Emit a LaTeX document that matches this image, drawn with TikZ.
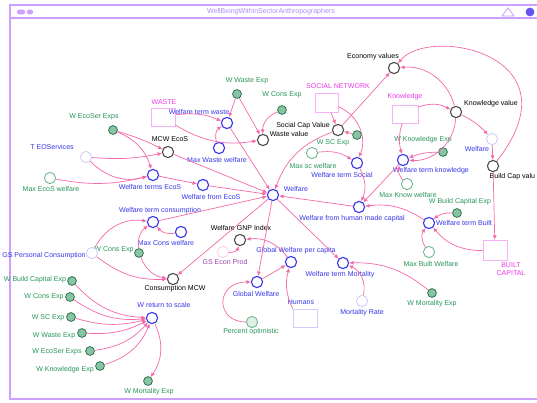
\documentclass[tikz,border=0pt]{standalone}
\usepackage{fontspec}
\setmainfont{Liberation Sans}
\usepackage{xcolor}
\usepackage{tikz}
\usetikzlibrary{arrows.meta}
\definecolor{figpink}{RGB}{245,105,170}
\definecolor{figblue}{RGB}{55,55,235}
\definecolor{figgreen}{RGB}{40,150,90}
\definecolor{figmag}{RGB}{235,60,235}
\definecolor{figframe}{RGB}{205,160,255}
\definecolor{figplum}{RGB}{150,70,170}
\tikzstyle{link} = [-{Latex[length=1.1mm,width=1mm]}, line width=0.5pt, draw=figpink]
\tikzset{
    conv/.style={circle, draw, fill=white, minimum size=0.28cm, inner sep=0pt, line width=0.8pt},
    bconv/.style={conv, draw=figblue},
    kconv/.style={conv, draw=black!70},
    gconv/.style={conv, draw=figgreen!70, line width=0.6pt},
    pconv/.style={conv, draw=figblue!25, line width=0.6pt},
    wexp/.style={circle, draw=figgreen!70!black, fill=figgreen!55, minimum size=0.22cm, inner sep=0pt, line width=0.5pt},
    stock/.style={rectangle, draw=figmag!40, fill=white, inner sep=0pt, line width=0.5pt,
        minimum width=0.6cm, minimum height=0.45cm},
    lbl/.style={font=\fontsize{5}{6}\selectfont, inner sep=0.5pt},
    blbl/.style={lbl, text=figblue},
    klbl/.style={lbl, text=black},
    glbl/.style={lbl, text=figgreen},
    mlbl/.style={lbl, text=figmag, align=center},
}

\begin{document}
\begin{tikzpicture}[x=0.025cm, y=-0.025cm]
    \useasboundingbox (0,0) rectangle (537,402);
    \fill[white] (0,0) rectangle (537,402);

    % window frame
    \draw[figframe, line width=1.2pt] (537,5) -- (10,5) -- (10,399) -- (537,399);
    \draw[figframe, line width=0.8pt] (10,18) -- (537,18);
    \node[fill=figframe, rounded corners=1pt, minimum width=0.2cm, minimum height=0.12cm, inner sep=0pt] (btna) at (21,12) {};
    \node[fill=figframe, rounded corners=1pt, minimum width=0.15cm, minimum height=0.12cm, inner sep=0pt] (btnb) at (30,12) {};
    \node[lbl, text=figframe!80!figblue] (title) at (271,12) {WellBeingWithinSectorAnthropographers};
    \draw[figframe, line width=0.6pt] (502,16) -- (508,8) -- (514,16) -- cycle;
    \fill[figblue!70!figframe] (530,12) circle (0.11cm);

    % ecosystem services
    \node[wexp] (ecoexp) at (113,130) {};
    \node[glbl] (ecoexp-l) at (94,117) {W EcoSer Exps};
    \node[pconv] (teos) at (86,157) {};
    \node[blbl] (teos-l) at (52,147) {T EOServices};
    \node[gconv] (maxeco) at (50,178) {};
    \node[glbl] (maxeco-l) at (51,189) {Max EcoS welfare};
    \node[kconv] (mcweco) at (168,152) {};
    \node[klbl] (mcweco-l) at (170,139) {MCW EcoS};
    \node[bconv] (termeco) at (153,175) {};
    \node[blbl] (termeco-l) at (150,187) {Welfare terms EcoS};
    \node[bconv] (fromeco) at (203,185) {};
    \node[blbl] (fromeco-l) at (211,197) {Welfare from EcoS};

    % waste
    \node[stock] (waste) at (163,117) {};
    \node[mlbl] (waste-l) at (164,102) {WASTE};
    \node[bconv] (termwaste) at (227,123) {};
    \node[blbl] (termwaste-l) at (199,112) {Welfare term waste};
    \node[bconv] (maxwaste) at (219,148) {};
    \node[blbl] (maxwaste-l) at (217,160) {Max Waste welfare};
    \node[wexp] (wasteexp) at (237,94) {};
    \node[glbl] (wasteexp-l) at (247,81) {W Waste Exp};
    \node[wexp] (consexpa) at (282,110) {};
    \node[glbl] (consexpa-l) at (282,95) {W Cons Exp};
    \node[kconv] (wasteval) at (263,140) {};
    \node[klbl] (wasteval-l) at (289,134) {Waste value};

    \node[bconv] (welfare) at (273,195) {};
    \node[blbl] (welfare-l) at (296,189) {Welfare};

    % social
    \node[stock, minimum width=0.58cm, minimum height=0.47cm] (social) at (327,103) {};
    \node[mlbl] (social-l) at (338,86) {SOCIAL NETWORK};
    \node[kconv] (scval) at (338,130) {};
    \node[klbl] (scval-l) at (303,126) {Social Cap Value};
    \node[wexp] (scexp) at (357,135) {};
    \node[glbl] (scexp-l) at (333,143) {W SC Exp};
    \node[gconv] (maxsc) at (312,153) {};
    \node[glbl] (maxsc-l) at (313,166) {Max sc welfare};
    \node[bconv] (termsoc) at (357,163) {};
    \node[blbl] (termsoc-l) at (342,175) {Welfare term Social};

    % knowledge
    \node[kconv] (econ) at (394,68) {};
    \node[klbl] (econ-l) at (373,57) {Economy values};
    \node[stock, minimum width=0.65cm] (know) at (405,114) {};
    \node[mlbl] (know-l) at (405,97) {Knowledge};
    \node[kconv] (knowval) at (456,112) {};
    \node[klbl] (knowval-l) at (491,104) {Knowledge value};
    \node[wexp] (knowexp) at (443,152) {};
    \node[glbl] (knowexp-l) at (423,140) {W Knowledge Exp};
    \node[bconv] (termknow) at (403,160) {};
    \node[blbl] (termknow-l) at (431,171) {Welfare term knowledge};
    \node[gconv] (maxknow) at (407,184) {};
    \node[glbl] (maxknow-l) at (408,195) {Max Know welfare};

    % built capital
    \node[pconv] (welftwo) at (492,139) {};
    \node[blbl] (welftwo-l) at (477,149) {Welfare};
    \node[kconv] (buildval) at (493,166) {};
    \node[klbl, anchor=east] (buildval-l) at (536,177) {Build Cap valu};
    \node[wexp] (buildexp) at (457,213) {};
    \node[glbl] (buildexp-l) at (460,202) {W Build Capital Exp};
    \node[bconv] (termbuilt) at (429,223) {};
    \node[blbl] (termbuilt-l) at (464,223) {Welfare term Built};
    \node[gconv] (maxbuilt) at (429,252) {};
    \node[glbl] (maxbuilt-l) at (431,264) {Max Built Welfare};
    \node[stock, minimum height=0.5cm] (built) at (495,250) {};
    \node[mlbl] (built-l) at (511,269) {BUILT\\CAPITAL};
    \node[bconv] (fromhuman) at (359,207) {};
    \node[blbl] (fromhuman-l) at (352,219) {Welfare from human made capital};

    % mortality and global welfare
    \node[bconv] (termmort) at (343,263) {};
    \node[blbl] (termmort-l) at (340,275) {Welfare term Mortality};
    \node[wexp] (mortexp) at (432,293) {};
    \node[glbl] (mortexp-l) at (432,304) {W Mortality Exp};
    \node[pconv] (mortrate) at (362,301) {};
    \node[blbl] (mortrate-l) at (362,313) {Mortality Rate};
    \node[stock, draw=figblue!25] (humans) at (305,318) {};
    \node[blbl] (humans-l) at (301,302) {Humans};
    \node[bconv] (gwpc) at (291,262) {};
    \node[blbl] (gwpc-l) at (296,251) {Global Welfare per capita};
    \node[bconv] (gw) at (257,282) {};
    \node[blbl] (gw-l) at (256,294) {Global Welfare};
    \node[kconv] (gnp) at (240,240) {};
    \node[klbl] (gnp-l) at (241,228) {Welfare GNP Index};
    \node[pconv, draw=figpink!30] (gsecon) at (223,252) {};
    \node[lbl, text=figplum] (gsecon-l) at (225,262) {GS Econ Prod};
    \node[gconv, fill=figgreen!15] (pctopt) at (252,322) {};
    \node[glbl] (pctopt-l) at (251,332) {Percent optimistic};

    % consumption
    \node[kconv] (consmcw) at (173,279) {};
    \node[klbl] (consmcw-l) at (175,289) {Consumption MCW};
    \node[bconv] (termcons) at (153,222) {};
    \node[blbl] (termcons-l) at (160,211) {Welfare term consumption};
    \node[bconv] (maxcons) at (181,232) {};
    \node[blbl] (maxcons-l) at (166,243) {Max Cons welfare};
    \node[wexp] (consexpb) at (139,253) {};
    \node[glbl] (consexpb-l) at (114,250) {W Cons Exp};
    \node[pconv] (gspc) at (92,253) {};
    \node[blbl] (gspc-l) at (44,256) {GS Personal Consumption};

    % return to scale
    \node[bconv] (rts) at (152,318) {};
    \node[blbl] (rts-l) at (164,305) {W return to scale};
    \node[wexp] (lbuild) at (72,281) {};
    \node[glbl] (lbuild-l) at (35,280) {W Build Capital Exp};
    \node[wexp] (lcons) at (70,297) {};
    \node[glbl] (lcons-l) at (44,297) {W Cons Exp};
    \node[wexp] (lsc) at (71,317) {};
    \node[glbl] (lsc-l) at (48,318) {W SC Exp};
    \node[wexp] (lwaste) at (82,333) {};
    \node[glbl] (lwaste-l) at (54,336) {W Waste Exp};
    \node[wexp] (lecos) at (90,351) {};
    \node[glbl] (lecos-l) at (57,352) {W EcoSer Exps};
    \node[wexp] (lknow) at (100,366) {};
    \node[glbl] (lknow-l) at (65,370) {W Knowledge Exp};
    \node[wexp] (lmort) at (148,381) {};
    \node[glbl] (lmort-l) at (149,392) {W Mortality Exp};

    % connectors
    \draw[link] (ecoexp) to[bend left=5] (mcweco);
    \draw[link] (ecoexp) to[bend left=25] (termeco);
    \draw[link] (teos) to[bend right=8] (mcweco);
    \draw[link] (teos) to[bend right=30] (termeco);
    \draw[link] (maxeco) to[bend right=12] (termeco);
    \draw[link] (mcweco) -- (welfare);
    \draw[link] (termeco) -- (fromeco);
    \draw[link] (fromeco) -- (welfare);

    \draw[link] (waste) to[bend left=15] (termwaste);
    \draw[link] (waste) to[bend right=20] (wasteval);
    \draw[link] (maxwaste) to[bend left=40] (termwaste);
    \draw[link] (wasteexp) -- (termwaste);
    \draw[link] (wasteexp) -- (wasteval);
    \draw[link] (consexpa) to[bend right=35] (wasteval);
    \draw[link] (termwaste) -- (welfare);

    \draw[link] (social) -- (scval);
    \draw[link] (social) to[bend left=45] (termsoc);
    \draw[link] (scval) -- (econ);
    \draw[link] (scexp) -- (scval);
    \draw[link] (scval) to[bend right=25] (welfare);
    \draw[link] (maxsc) to[bend left=20] (termsoc);
    \draw[link] (termsoc) to[bend left=25] (fromhuman);

    \draw[link] (know) to[bend left=25] (knowval);
    \draw[link] (knowval) to[bend right=40] (econ);
    \draw[link] (know) to[bend right=15] (termknow);
    \draw[link] (knowval) to[bend left=45] (termknow);
    \draw[link] (knowexp) to[bend right=10] (termknow);
    \draw[link] (maxknow) to[bend left=35] (termknow);
    \draw[link] (knowval) to[bend left=10] (welftwo);
    \draw[link] (termknow) -- (fromhuman);

    \draw[link] (welftwo) -- (buildval);
    \draw[link] (buildval) .. controls (580,55) and (430,25) .. (econ);
    \draw[link] (buildval) -- (built);
    \draw[link] (built) to[bend left=25] (termbuilt);
    \draw[link] (buildexp) to[bend right=20] (termbuilt);
    \draw[link] (maxbuilt) to[bend left=35] (termbuilt);
    \draw[link] (termbuilt) to[bend right=20] (fromhuman);
    \draw[link] (fromhuman) -- (welfare);

    \draw[link] (welfare) -- (termmort);
    \draw[link] (mortexp) to[bend right=20] (termmort);
    \draw[link] (mortrate) to[bend right=40] (termmort);
    \draw[link] (welfare) -- (gw);
    \draw[link] (gw) -- (gwpc);
    \draw[link] (humans.north west) to[bend left=20] (gwpc);
    \draw[link] (gwpc) to[bend right=30] (gnp);
    \draw[link] (gsecon) to[bend right=40] (gnp);
    \draw[link] (pctopt) .. controls (215,322) and (215,282) .. (gw);

    \draw[link] (welfare) -- (consmcw);
    \draw[link] (termcons) -- (welfare);
    \draw[link] (maxcons) to[bend left=30] (termcons);
    \draw[link] (consexpb) to[bend left=30] (termcons);
    \draw[link] (consexpb) to[bend right=30] (consmcw);
    \draw[link] (gspc) to[bend left=35] (termcons);
    \draw[link] (gspc) to[bend right=20] (consmcw);

    \draw[link] (lbuild) to[bend right=22] (rts);
    \draw[link] (lcons) to[bend right=20] (rts);
    \draw[link] (lsc) to[bend right=15] (rts);
    \draw[link] (lwaste) to[bend right=15] (rts);
    \draw[link] (lecos) to[bend right=20] (rts);
    \draw[link] (lknow) to[bend right=25] (rts);
    \draw[link] (rts) to[bend left=30] (lmort);
\end{tikzpicture}
\end{document}
